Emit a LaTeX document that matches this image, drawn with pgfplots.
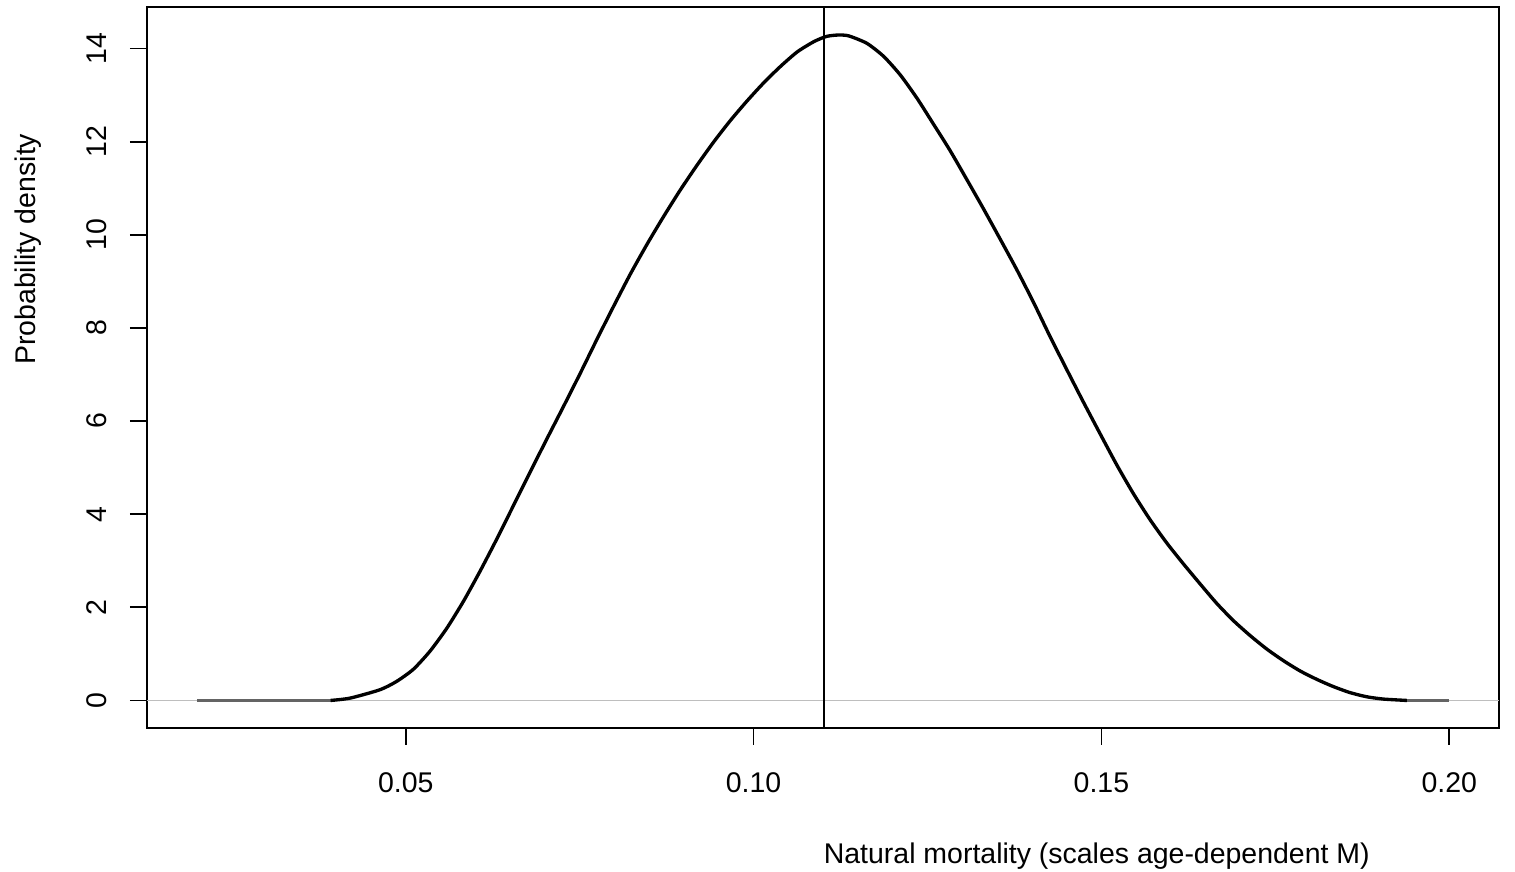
\documentclass[border=0pt]{standalone}
\usepackage{fontspec}
\setmainfont{Liberation Sans}
\usepackage{pgfplots}
\pgfplotsset{compat=1.18}
\begin{document}
\fontsize{8.1}{9.7}\selectfont
\begin{tikzpicture}
\useasboundingbox (-1.47,-1.443) rectangle (13.68,7.277);
\begin{axis}[
  at={(0,0)}, anchor=south west,
  scale only axis, width=13.523cm, height=7.204cm,
  xmin=0.01281, xmax=0.20719, ymin=-0.585, ymax=14.885,
  xtick={0.05,0.10,0.15,0.20}, xticklabels={0.05,0.10,0.15,0.20},
  ytick={0,2,4,6,8,10,12,14},
  tick align=outside, xtick pos=left, ytick pos=left,
  major tick length=0.17cm,
  every tick/.style={black, line width=0.5pt},
  axis line style={line width=0.5pt},
  /pgf/number format/assume math mode=true,
  tick label style={font=\fontsize{8.1}{9.7}\selectfont, inner sep=0pt},
  xticklabel style={anchor=base, yshift=-0.48cm},
  yticklabel style={xshift=-0.23cm, rotate=90, anchor=base},
  every axis x label/.style={at={(axis description cs:0.5,0)}, yshift=-1.36cm, anchor=base west, inner sep=0pt, font=\fontsize{8.1}{9.7}\selectfont},
  every axis y label/.style={at={(axis description cs:0,0.5)}, xshift=-1.11cm, yshift=0.02cm, rotate=90, anchor=base west, inner sep=0pt, font=\fontsize{8.1}{9.7}\selectfont},
  xlabel={Natural mortality (scales age-dependent M)},
  ylabel={Probability density},
]
% light grey zero line
\addplot[color={rgb,255:red,190;green,190;blue,190}, line width=0.35pt] coordinates {(0.01281,0) (0.20719,0)};
% dark grey flat tails
\addplot[color={rgb,255:red,100;green,100;blue,100}, line width=0.6pt] coordinates {(0.0200,0) (0.0392,0)};
\addplot[color={rgb,255:red,100;green,100;blue,100}, line width=0.6pt] coordinates {(0.1939,0) (0.2000,0)};
% density curve
\addplot[black, line width=0.95pt, line join=round, smooth, tension=0.4] coordinates {
(0.0392,0.00) (0.0420,0.05) (0.0463,0.23) (0.0487,0.41) (0.0511,0.67)
(0.0535,1.06) (0.0559,1.55) (0.0583,2.13) (0.0607,2.78) (0.0631,3.47)
(0.0655,4.19) (0.0679,4.91) (0.0703,5.62) (0.0727,6.32) (0.0751,7.03)
(0.0775,7.76) (0.0799,8.47) (0.0823,9.16) (0.0847,9.80) (0.0871,10.40)
(0.0895,10.97) (0.0919,11.50) (0.0943,12.00) (0.0967,12.46) (0.0991,12.88)
(0.1015,13.27) (0.1039,13.62) (0.1063,13.93) (0.1087,14.15) (0.1105,14.26)
(0.1122,14.29) (0.1137,14.27) (0.1163,14.11) (0.1187,13.83) (0.1211,13.43)
(0.1235,12.93) (0.1258,12.39) (0.1282,11.82) (0.1306,11.20) (0.1330,10.57)
(0.1354,9.92) (0.1378,9.26) (0.1402,8.56) (0.1426,7.82) (0.1450,7.11)
(0.1474,6.41) (0.1498,5.73) (0.1522,5.06) (0.1546,4.44) (0.1570,3.88)
(0.1594,3.38) (0.1618,2.93) (0.1642,2.50) (0.1666,2.08) (0.1690,1.71)
(0.1714,1.39) (0.1738,1.10) (0.1762,0.85) (0.1786,0.63) (0.1810,0.45)
(0.1833,0.30) (0.1857,0.17) (0.1881,0.08) (0.1905,0.03) (0.1939,0.00)
};
% vertical reference line
\addplot[black, line width=0.5pt] coordinates {(0.1101,-0.585) (0.1101,14.885)};
\end{axis}
\end{tikzpicture}
\end{document}
